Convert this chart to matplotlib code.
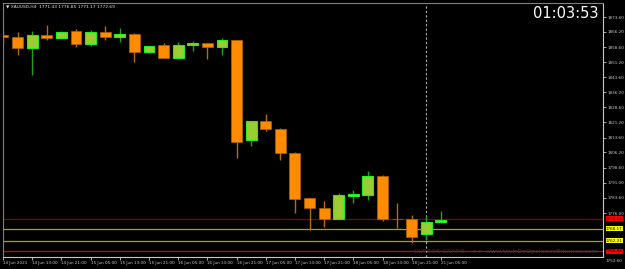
"""XAUUSD H4 candle chart, MT4 style."""
import numpy as np
import matplotlib
matplotlib.use('Agg')
import matplotlib.pyplot as plt
import matplotlib.transforms as mtransforms

# H4 bars, left to right
opens = [1864.86, 1863.86, 1858.08, 1864.56, 1863.36, 1866.55, 1860.08, 1866.05,
         1863.71, 1865.21, 1856.24, 1859.58, 1853.40, 1859.73, 1860.72, 1858.73,
         1862.07, 1812.24, 1821.71, 1817.87, 1806.06, 1783.34, 1778.50, 1773.17,
         1784.63, 1785.13, 1794.45, 1773.20, 1773.02, 1765.55, 1771.43]
highs = [1866.70, 1866.20, 1866.85, 1869.84, 1866.70, 1867.70, 1867.05, 1869.19,
         1868.20, 1865.56, 1859.40, 1860.87, 1861.22, 1861.72, 1860.90, 1863.21,
         1862.30, 1822.00, 1825.34, 1818.52, 1806.56, 1783.50, 1782.14, 1785.83,
         1787.47, 1797.09, 1794.95, 1781.15, 1775.02, 1774.52, 1776.85]
lows = [1860.20, 1854.75, 1844.78, 1862.22, 1862.90, 1858.58, 1859.23, 1862.22,
        1861.07, 1851.40, 1855.90, 1853.10, 1853.10, 1856.89, 1852.60, 1854.75,
        1803.27, 1809.55, 1817.02, 1802.57, 1776.01, 1767.39, 1769.18, 1773.00,
        1781.15, 1782.49, 1772.17, 1768.39, 1760.91, 1762.55, 1771.17]
closes = [1863.56, 1858.08, 1864.56, 1863.21, 1866.20, 1860.22, 1866.20, 1863.71,
          1865.36, 1856.39, 1859.08, 1853.40, 1859.88, 1860.72, 1858.73, 1862.07,
          1811.54, 1821.86, 1818.02, 1806.06, 1783.14, 1778.65, 1773.17, 1784.83,
          1785.48, 1794.45, 1773.17, 1773.00, 1764.20, 1771.53, 1772.69]

date_labels = ['14 Jun 2021', '14 Jun 13:00', '14 Jun 21:00', '15 Jun 05:00',
               '15 Jun 13:00', '15 Jun 21:00', '16 Jun 05:00', '16 Jun 13:00',
               '16 Jun 21:00', '17 Jun 05:00', '17 Jun 13:00', '17 Jun 21:00',
               '18 Jun 05:00', '18 Jun 13:00', '18 Jun 21:00', '21 Jun 05:00']

price_ticks = [1873.60, 1866.20, 1858.60, 1851.20, 1843.60, 1836.20, 1828.60,
               1821.20, 1813.60, 1806.20, 1798.60, 1791.00, 1783.60, 1776.00]
bottom_price = 1753.60

# horizontal levels: (price, line colour, label background)
levels = [1773.13, 1768.17, 1762.31, 1756.84]
level_colors = ['#8b0000', '#a8a800', '#a8a800', '#dd0000']
level_bg = ['#ff0000', '#ffff00', '#ffff00', '#ff0000']

separator_bar = 29

BULL_BODY, BULL_EDGE, BULL_WICK = '#9acd32', '#22ee22', '#1fa01f'
BEAR_BODY, BEAR_EDGE, BEAR_WICK = '#ff8c00', '#b06000', '#b86a10'

fig = plt.figure(figsize=(6.25, 2.69), dpi=100, facecolor='black')
ax = fig.add_axes([3 / 625, 12 / 269, 600 / 625, 254 / 269], facecolor='black')

x = np.arange(len(opens))
o = np.array(opens)
c = np.array(closes)
bull = c >= o

# wicks
ax.vlines(x[bull], np.array(lows)[bull], np.array(highs)[bull],
          color=BULL_WICK, linewidth=1.0, zorder=2)
ax.vlines(x[~bull], np.array(lows)[~bull], np.array(highs)[~bull],
          color=BEAR_WICK, linewidth=1.0, zorder=2)

# bodies
bottoms = np.minimum(o, c)
heights = np.maximum(np.abs(c - o), 0.15)
ax.bar(x[bull], heights[bull], bottom=bottoms[bull], width=0.75,
       color=BULL_BODY, edgecolor=BULL_EDGE, linewidth=0.8, zorder=3)
ax.bar(x[~bull], heights[~bull], bottom=bottoms[~bull], width=0.75,
       color=BEAR_BODY, edgecolor=BEAR_EDGE, linewidth=0.5, zorder=3)

# support / resistance lines
for lvl, col in zip(levels, level_colors):
    ax.axhline(lvl, color=col, linewidth=0.9, zorder=1)

# period separator
ax.axvline(separator_bar, color='#b0b0b0', linewidth=0.8,
           linestyle=(0, (2, 2)), zorder=1)

ax.set_xlim(0, 41.1)
ax.set_ylim(1754.1, 1880.6)

# axes look
for side in ['left', 'top']:
    ax.spines[side].set_color('#808080')
for side in ['right', 'bottom']:
    ax.spines[side].set_color('#c8c8c8')

ax.yaxis.tick_right()
ax.set_yticks(price_ticks)
ax.set_yticklabels([f'{p:.2f}' for p in price_ticks])
ax.tick_params(axis='y', colors='#c8c8c8', labelsize=3.0, length=2,
               width=0.6, pad=1)

ax.set_xticks(np.arange(0, 31, 2))
ax.set_xticklabels(date_labels, ha='left')
ax.tick_params(axis='x', colors='#c8c8c8', labelsize=3.0, length=2,
               width=0.6, pad=1)

# coloured price labels for the levels
trans = mtransforms.blended_transform_factory(ax.transAxes, ax.transData)
for lvl, bg in zip(levels, level_bg):
    ax.text(1.005, lvl, f'{lvl:.2f}', transform=trans, fontsize=3.0,
            color='black', va='center', ha='left', clip_on=False,
            bbox=dict(boxstyle='square,pad=0.1', facecolor=bg,
                      edgecolor='none'))
# lowest price on the scale, sits just under the bottom edge
ax.text(1.005, -0.008, f'{bottom_price:.2f}', transform=ax.transAxes,
        fontsize=3.0, color='#c8c8c8', va='top', ha='left', clip_on=False)

# header, clock, watermark
fig.text(6 / 625, 1 - 7 / 269,
         '\u25bc XAUUSD,H4  1771.43 1776.85 1771.17 1772.69',
         color='#e0e0e0', fontsize=3.2, va='center', ha='left')
fig.text(598 / 625, 1 - 14 / 269, '01:03:53', color='white', fontsize=10.5,
         va='center', ha='right')
fig.text(598 / 625, 1 - 252 / 269,
         'CURSOS GRATIS    >> www.VivirDeOpcionesBinarias.com',
         color='#383838', fontsize=4.6, va='center', ha='right')

plt.savefig('out.png', dpi=100, facecolor='black')
